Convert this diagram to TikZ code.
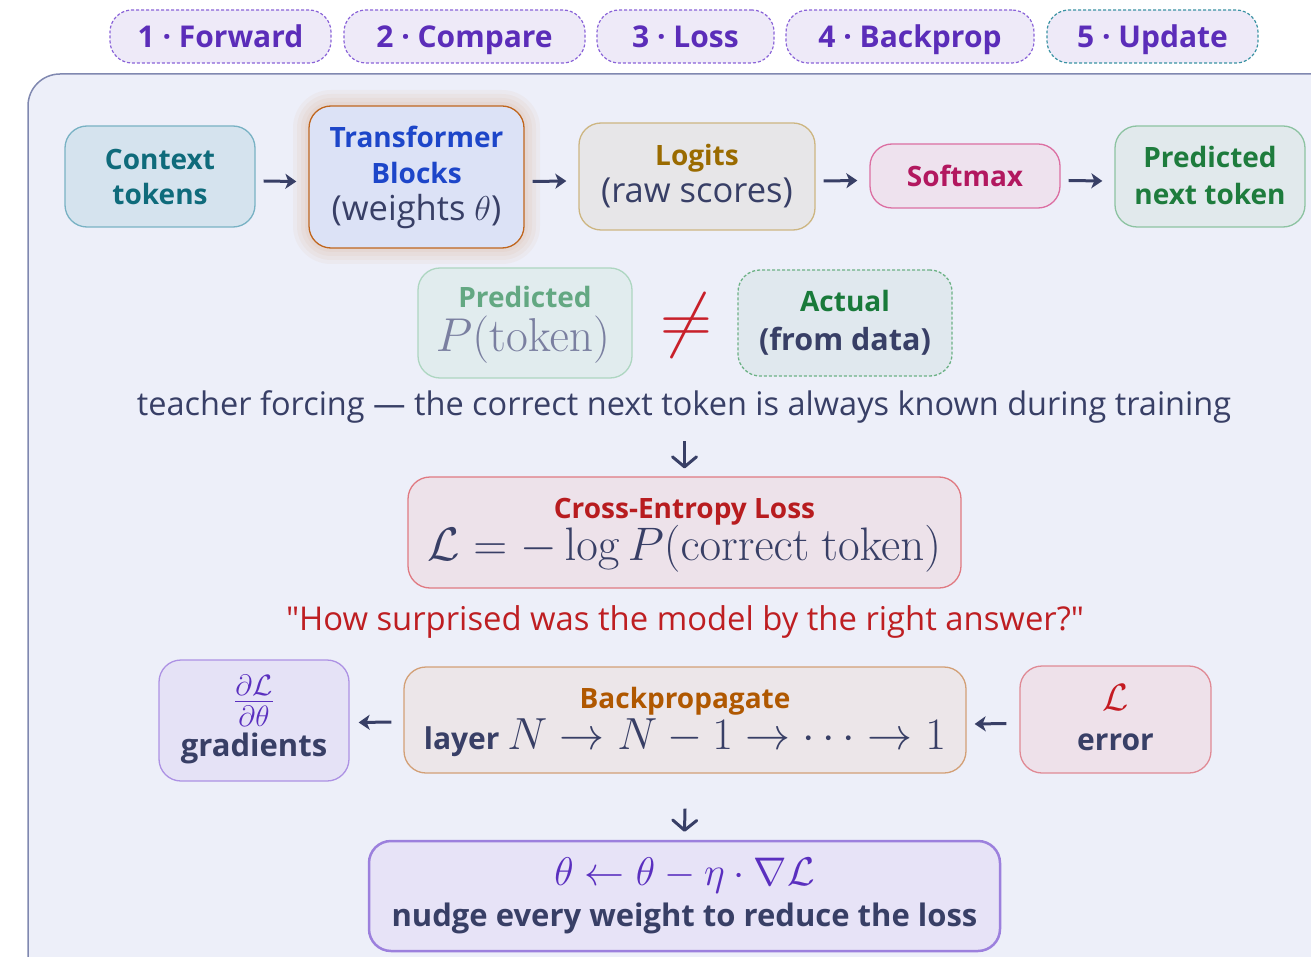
\RequirePackage{fix-cm}
\documentclass[tikz,border=0pt]{standalone}
\usepackage{amsmath}
\usepackage[no-math]{fontspec}
\setmainfont{Open Sans}[Ligatures=TeXOff]
\usetikzlibrary{arrows.meta}
\definecolor{ink}{HTML}{383F66}
\definecolor{contfill}{HTML}{EDEFF9}
\definecolor{contline}{HTML}{8088B0}
\definecolor{tabfill}{HTML}{EEEAF8}
\definecolor{tabtext}{HTML}{5B2DB9}
\definecolor{tabline}{HTML}{8A63D8}
\definecolor{tabteal}{HTML}{3B93A3}
\definecolor{ctxfill}{HTML}{D5E3EE}\definecolor{ctxline}{HTML}{79B2C4}\definecolor{ctxtext}{HTML}{0F6B7B}
\definecolor{tbfill}{HTML}{DCE2F6}\definecolor{tbline}{HTML}{C0661E}\definecolor{tbtext}{HTML}{1D46C9}
\definecolor{lgfill}{HTML}{E7E6E8}\definecolor{lgline}{HTML}{CDB682}\definecolor{lgtext}{HTML}{9A6B00}
\definecolor{smfill}{HTML}{EEE2EE}\definecolor{smline}{HTML}{DC6FA2}\definecolor{smtext}{HTML}{B2185F}
\definecolor{pnfill}{HTML}{E1E9EC}\definecolor{pnline}{HTML}{8DC3A2}\definecolor{pntext}{HTML}{1E7C3D}
\definecolor{ppfill}{HTML}{E1ECEE}\definecolor{ppline}{HTML}{AED6C1}\definecolor{pptext}{HTML}{63A882}\definecolor{ppmath}{HTML}{7A7FA0}
\definecolor{neqred}{HTML}{C8202A}
\definecolor{acfill}{HTML}{E0E8EE}\definecolor{acline}{HTML}{6DB286}\definecolor{actext}{HTML}{197A3A}
\definecolor{lsfill}{HTML}{EDE2EA}\definecolor{lsline}{HTML}{E07A82}\definecolor{lstext}{HTML}{B81C1F}
\definecolor{qtext}{HTML}{BE1E22}
\definecolor{grfill}{HTML}{E5E2F6}\definecolor{grline}{HTML}{AD92E4}\definecolor{purp}{HTML}{5A2FBF}
\definecolor{bpfill}{HTML}{ECE6E9}\definecolor{bpline}{HTML}{D3A077}\definecolor{bptext}{HTML}{B05800}
\definecolor{erfill}{HTML}{EEE1EA}\definecolor{erline}{HTML}{E08A95}\definecolor{ertext}{HTML}{C41A22}
\definecolor{upfill}{HTML}{E7E3F7}\definecolor{upline}{HTML}{9C80DD}
\newcommand\lblfont{\fontsize{28}{34}\selectfont\bfseries}
\newcommand\subfont{\fontsize{34.5}{40}\selectfont\mdseries}
\newcommand\semi[1]{\fontsize{#1}{#1}\selectfont\bfseries}
\newcommand\mfnt[1]{\fontsize{#1}{#1}\selectfont\mdseries}
\tikzset{
  box/.style={rounded corners=22pt, line width=1.3pt, inner sep=0pt},
  txt/.style={anchor=base, inner sep=0pt, font=\lblfont},
  tab/.style={rounded corners=22pt, draw=tabline, dash pattern=on 3pt off 2pt, line width=1.2pt,
    fill=tabfill, text=tabtext, font=\semi{30}, text height=22pt, text depth=0pt, minimum height=53pt, inner sep=0pt},
  arr/.style={draw=ink, line width=3pt, -{Stealth[length=11pt,width=15pt,inset=3pt]}},
  darr/.style={draw=ink, line width=3pt, -{Straight Barb[length=10pt,width=24pt,line cap=round,line join=round]}},
}
\begin{document}
\begin{tikzpicture}[x=1pt,y=-1pt]
\useasboundingbox (0,0) rectangle (1311,957);
\begin{scope}
\clip (0,0) rectangle (1311,957);
\draw[line width=1.5pt, draw=contline, fill=contfill, rounded corners=32pt] (28,74) rectangle (1345,990);
\end{scope}
% tabs
\node[tab, minimum width=221pt] (t1) at (220.5,36.5) {1 · Forward};
\node[tab, minimum width=241pt] (t2) at (464.5,36.5) {2 · Compare};
\node[tab, minimum width=177pt] (t3) at (685.5,36.5) {3 · Loss};
\node[tab, minimum width=248pt] (t4) at (910,36.5) {4 · Backprop};
\node[tab, draw=tabteal, minimum width=211pt] (t5) at (1152.5,36.5) {5 · Update};
% glow
\foreach \g in {16,12,8,4}{
  \fill[tbline, opacity=0.045, rounded corners=22pt+\g pt] (309-\g,106-\g) rectangle (524+\g,248+\g);
}
% row 1
\node[box, fill=ctxfill, draw=ctxline, minimum width=190pt, minimum height=101pt] (ctx) at (160,176.5) {};
\node[txt, text=ctxtext] (ctx1) at (160,170) {Context};
\node[txt, text=ctxtext] (ctx2) at (160,205) {tokens};
\node[box, fill=tbfill, draw=tbline, minimum width=215pt, minimum height=142pt] (tb) at (416.5,177) {};
\node[txt, text=tbtext] (tb1) at (416.5,148) {Transformer};
\node[txt, text=tbtext] (tb2) at (416.5,184) {Blocks};
\node[txt, text=ink, font=\subfont] (tb3) at (416.5,221) {(weights $\theta$)};
\node[box, fill=lgfill, draw=lgline, minimum width=236pt, minimum height=107pt] (lg) at (697,176.5) {};
\node[txt, text=lgtext] (lg1) at (697,166) {Logits};
\node[txt, text=ink, font=\subfont] (lg2) at (697,203) {(raw scores)};
\node[box, fill=smfill, draw=smline, minimum width=190pt, minimum height=64pt] (sm) at (965,176) {};
\node[txt, text=smtext] (sm1) at (965,187) {Softmax};
\node[box, fill=pnfill, draw=pnline, minimum width=190pt, minimum height=101pt] (pn) at (1210,176.5) {};
\node[txt, text=pntext] (pn1) at (1210,168) {Predicted};
\node[txt, text=pntext] (pn2) at (1210,205) {next token};
\foreach \a/\b in {ctx/tb, tb/lg, lg/sm, sm/pn}{
  \draw[arr] ([xshift=8pt,yshift=-4.5pt]\a.east) -- ([xshift=-12pt,yshift=-4.5pt]\b.west);
}
% row 2
\node[box, fill=ppfill, draw=ppline, minimum width=214pt, minimum height=110pt] (pp) at (525,323) {};
\node[txt, text=pptext] (pp1) at (525,308) {Predicted};
\node[txt, text=ppmath, font=\mfnt{47.5}] (pp2) at (523,352) {$P(\mathrm{token})$};
\node[text=neqred, font=\fontsize{72}{72}\selectfont, inner sep=0pt] (neq) at (686,326) {$\neq$};
\node[box, fill=acfill, draw=acline, dash pattern=on 3pt off 2pt, minimum width=214pt, minimum height=106pt] (ac) at (845,323) {};
\node[txt, text=actext] (ac1) at (845,312) {Actual};
\node[txt, text=ink, font=\semi{30.5}] (ac2) at (845,350) {(from data)};
\node[txt, text=ink, font=\fontsize{32.5}{36}\selectfont] (tf) at (684,415)
  {teacher forcing — the correct next token is always known during training};
% loss
\node[box, fill=lsfill, draw=lsline, minimum width=553pt, minimum height=111pt] (ls) at (684.5,532.5) {};
\node[txt, text=lstext] (ls1) at (684.5,518) {Cross-Entropy Loss};
\node[txt, text=ink, font=\mfnt{47}] (ls2) at (684.5,560) {$\mathcal{L} = -\log P(\mathrm{correct\ token})$};
\draw[darr] ([yshift=35pt]ls.north) -- ([yshift=8pt]ls.north);
\node[txt, text=qtext, font=\fontsize{32.8}{36}\selectfont] (q) at (685,630)
  {"How surprised was the model by the right answer?"};
% row 4
\node[box, fill=grfill, draw=grline, minimum width=190pt, minimum height=121pt] (gr) at (254,720.5) {};
\node[anchor=center, inner sep=0pt, text=purp, font=\mfnt{42}] (gr1) at (254,701) {$\tfrac{\partial\mathcal{L}}{\partial\theta}$};
\node[txt, text=ink, font=\semi{31}] (gr2) at (254,756) {gradients};
\node[box, fill=bpfill, draw=bpline, minimum width=562pt, minimum height=106pt] (bp) at (685,720) {};
\node[txt, text=bptext] (bp1) at (685,708) {Backpropagate};
\node[txt, text=ink, font=\semi{30}] (bp2) at (685,749) {layer {\mfnt{45}$N \rightarrow N-1 \rightarrow \cdots \rightarrow 1$}};
\node[box, fill=erfill, draw=erline, minimum width=191pt, minimum height=107pt] (er) at (1115.5,719.5) {};
\node[txt, text=ertext, font=\mfnt{38}] (er1) at (1115.5,710) {$\mathcal{L}$};
\node[txt, text=ink, font=\semi{30}] (er2) at (1115.5,750) {error};
\draw[arr] ([xshift=-12pt,yshift=-2pt]bp.west) -- ([xshift=9pt,yshift=-2pt]gr.east);
\draw[arr] ([xshift=-13pt,yshift=-4pt]er.west) -- ([xshift=8pt,yshift=-4pt]bp.east);
% update
\node[box, fill=upfill, draw=upline, line width=2.5pt, minimum width=631pt, minimum height=110pt] (up) at (684.5,896) {};
\node[txt, text=purp, font=\mfnt{40}] (up1) at (684.5,885) {$\theta \leftarrow \theta - \eta \cdot \nabla\mathcal{L}$};
\node[txt, text=ink, font=\semi{31}] (up2) at (684.5,926) {nudge every weight to reduce the loss};
\draw[darr] ([yshift=-35pt]bp.south) -- ([yshift=8pt]up.north);
\end{tikzpicture}
\end{document}
